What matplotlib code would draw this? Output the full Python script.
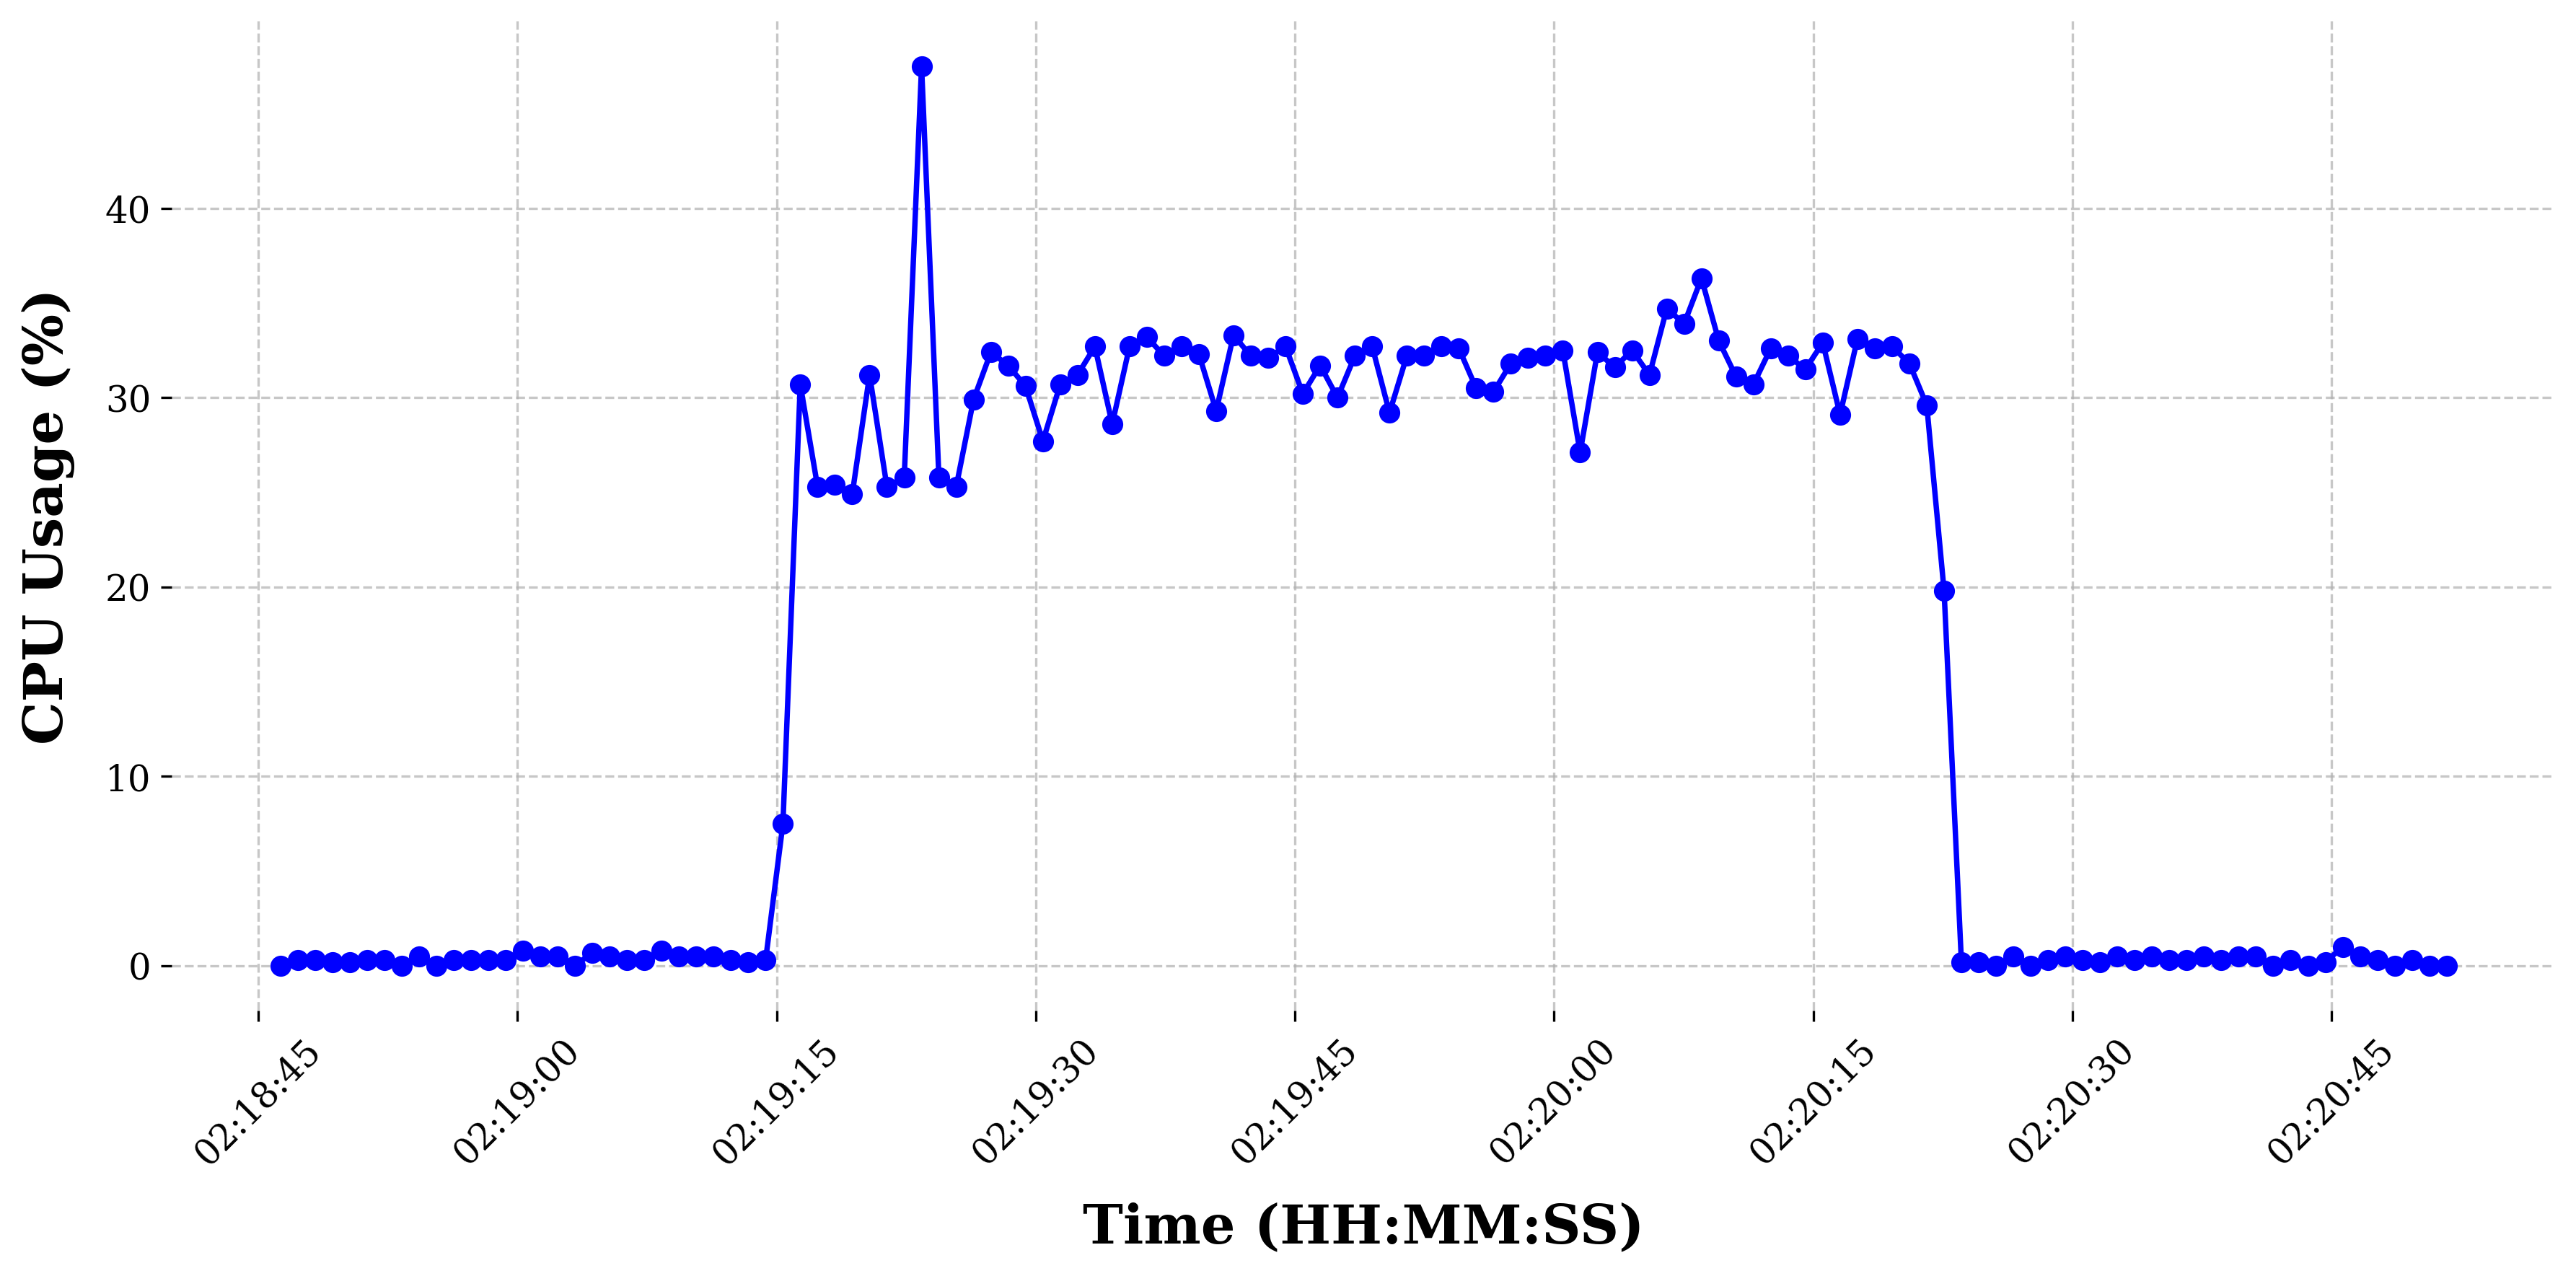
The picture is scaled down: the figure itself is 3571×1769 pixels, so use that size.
import matplotlib
matplotlib.use("Agg")
import matplotlib.pyplot as plt
import matplotlib.dates as mdates
import pandas as pd

# One CPU sample roughly every second
start_time = "2024-01-01 02:18:46.280"
sample_period = "1003ms"

cpu_usage = [
    0.0, 0.3, 0.3, 0.2, 0.2, 0.3, 0.3, 0.0, 0.5, 0.0,
    0.3, 0.3, 0.3, 0.3, 0.8, 0.5, 0.5, 0.0, 0.7, 0.5,
    0.3, 0.3, 0.8, 0.5, 0.5, 0.5, 0.3, 0.2, 0.3,
    7.5, 30.7, 25.3, 25.4, 24.9, 31.2, 25.3, 25.8, 47.5, 25.8,
    25.3, 29.9, 32.4, 31.7, 30.6, 27.7, 30.7, 31.2, 32.7, 28.6,
    32.7, 33.2, 32.2, 32.7, 32.3, 29.3, 33.3, 32.2, 32.1, 32.7,
    30.2, 31.7, 30.0, 32.2, 32.7, 29.2, 32.2, 32.2, 32.7, 32.6,
    30.5, 30.3, 31.8, 32.1, 32.2, 32.5, 27.1, 32.4, 31.6, 32.5,
    31.2, 34.7, 33.9, 36.3, 33.0, 31.1, 30.7, 32.6, 32.2, 31.5,
    32.9, 29.1, 33.1, 32.6, 32.7, 31.8, 29.6, 19.8,
    0.2, 0.2, 0.0, 0.5, 0.0, 0.3, 0.5, 0.3, 0.2, 0.5,
    0.3, 0.5, 0.3, 0.3, 0.5, 0.3, 0.5, 0.5, 0.0, 0.3,
    0.0, 0.2, 1.0, 0.5, 0.3, 0.0, 0.3, 0.0, 0.0,
]


def main():
    plt.rcParams["font.family"] = "serif"

    timestamps = pd.date_range(start_time, periods=len(cpu_usage),
                               freq=sample_period)

    fig, ax = plt.subplots(figsize=(12, 6))
    ax.plot(timestamps, cpu_usage, marker="o", color="blue", linewidth=1.8)

    ax.set_xlabel("Time (HH:MM:SS)", fontsize=18, fontweight="bold",
                  labelpad=10)
    ax.set_ylabel("CPU Usage (%)", fontsize=18, fontweight="bold",
                  labelpad=10)

    ax.xaxis.set_major_locator(mdates.SecondLocator(bysecond=[0, 15, 30, 45]))
    ax.xaxis.set_major_formatter(mdates.DateFormatter("%H:%M:%S"))
    plt.xticks(rotation=45, fontsize=12)
    plt.yticks(fontsize=12)

    ax.grid(True, linestyle="--", alpha=0.7)
    for spine in ax.spines.values():
        spine.set_visible(False)

    plt.tight_layout()
    plt.savefig("out.png", dpi=300, bbox_inches="tight")


if __name__ == "__main__":
    main()
